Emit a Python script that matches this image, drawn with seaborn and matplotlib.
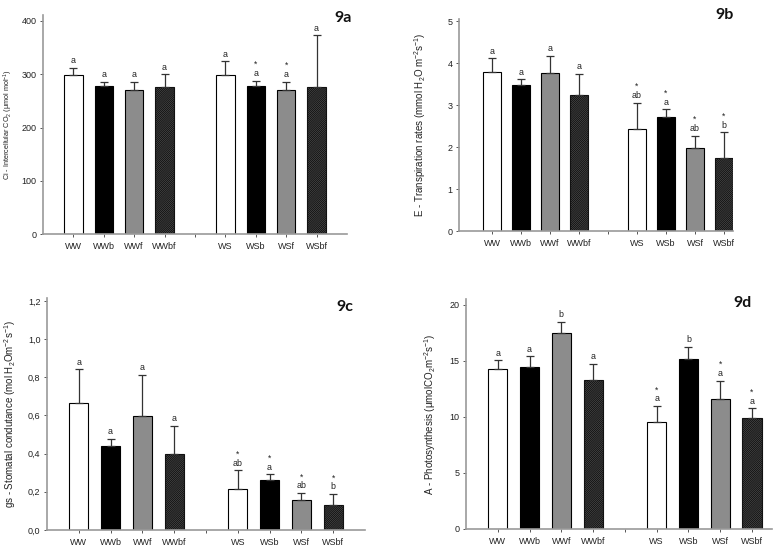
import numpy as np
import pandas as pd
import matplotlib
matplotlib.use("Agg")
import matplotlib.pyplot as plt
import seaborn as sns

# ---------------- data ----------------
groups = ["WW", "WWb", "WWf", "WWbf", "WS", "WSb", "WSf", "WSbf"]
slot_order = ["WW", "WWb", "WWf", "WWbf", "", "WS", "WSb", "WSf", "WSbf"]

a_mean = [298, 278, 270, 276, 298, 278, 271, 276]
a_top = [312, 286, 286, 300, 324, 288, 286, 373]
a_letters = ["a", "a", "a", "a", "a", "a", "a", "a"]
a_stars = [False, False, False, False, False, True, True, False]
a_yticks = [0, 100, 200, 300, 400]
a_yticklabels = ["0", "100", "200", "300", "400"]

b_mean = [3.79, 3.47, 3.77, 3.24, 2.44, 2.72, 1.98, 1.74]
b_top = [4.12, 3.61, 4.18, 3.74, 3.06, 2.90, 2.27, 2.35]
b_letters = ["a", "a", "a", "a", "ab", "a", "ab", "b"]
b_stars = [False, False, False, False, True, True, True, True]
b_yticks = [0, 1, 2, 3, 4, 5]
b_yticklabels = ["0", "1", "2", "3", "4", "5"]

c_mean = [0.667, 0.442, 0.596, 0.398, 0.217, 0.262, 0.157, 0.133]
c_top = [0.842, 0.479, 0.812, 0.545, 0.313, 0.292, 0.194, 0.190]
c_letters = ["a", "a", "a", "a", "ab", "a", "ab", "b"]
c_stars = [False, False, False, False, True, True, True, True]
c_yticks = [0.0, 0.2, 0.4, 0.6, 0.8, 1.0, 1.2]
c_yticklabels = ["0,0", "0,2", "0,4", "0,6", "0,8", "1,0", "1,2"]

d_mean = [14.24, 14.42, 17.48, 13.32, 9.50, 15.19, 11.63, 9.91]
d_top = [15.04, 15.40, 18.46, 14.75, 10.98, 16.23, 13.23, 10.77]
d_letters = ["a", "a", "b", "a", "a", "b", "a", "a"]
d_stars = [False, False, False, False, True, False, True, True]
d_yticks = [0, 5, 10, 15, 20]
d_yticklabels = ["0", "5", "10", "15", "20"]

a_ylabel = "Ci - Intercellular CO$_2$ (\u03bcmol mol$^{-1}$)"
b_ylabel = "E - Transpiration rates (mmol H$_2$O m$^{-2}$s$^{-1}$)"
c_ylabel = "gs - Stomatal condutance (mol H$_2$Om$^{-2}$s$^{-1}$)"
d_ylabel = "A - Photosynthesis (\u03bcmolCO$_2$m$^{-2}$s$^{-1}$)"

panel_tags = ["9a", "9b", "9c", "9d"]

# ---------------- style ----------------
sns.set_theme(style="ticks")
plt.rcParams["font.family"] = ["Liberation Sans", "DejaVu Sans"]
plt.rcParams["mathtext.fontset"] = "custom"
plt.rcParams["mathtext.rm"] = "Liberation Sans"
plt.rcParams["mathtext.it"] = "Liberation Sans:italic"
plt.rcParams["mathtext.bf"] = "Liberation Sans:bold"
plt.rcParams["hatch.linewidth"] = 0.7

palette = {"WW": "#ffffff", "WWb": "#000000", "WWf": "#8c8c8c", "WWbf": "#5c5c5c",
           "WS": "#ffffff", "WSb": "#000000", "WSf": "#8c8c8c", "WSbf": "#5c5c5c"}

W, H = 773, 551
fig = plt.figure(figsize=(W / 100, H / 100), dpi=100)
fig.patch.set_facecolor("white")


def add_panel(rect_px, xlim, ylim, mean, top, letters, stars, yticks, yticklabels,
              ylabel, label_x, tag, tag_xy, label_size=7):
    l, t, r, b = rect_px
    ax = fig.add_axes([l / W, 1 - b / H, (r - l) / W, (b - t) / H])
    df = pd.DataFrame({"group": groups, "value": mean})
    sns.barplot(data=df, x="group", y="value", hue="group", order=slot_order,
                hue_order=groups, palette=palette, width=0.6, saturation=1,
                edgecolor="black", linewidth=0.8, errorbar=None, legend=False, ax=ax)
    for p in ax.patches:
        idx = int(round(p.get_x() + p.get_width() / 2))
        if 0 <= idx < len(slot_order) and slot_order[idx].endswith("bf"):
            p.set_hatch("/" * 16)
            p.set_edgecolor("#111111")
    pos = np.array([slot_order.index(g) for g in groups])
    mean_a = np.array(mean)
    top_a = np.array(top)
    ax.errorbar(pos, mean_a, yerr=[np.zeros_like(mean_a), top_a - mean_a], fmt="none",
                ecolor="#333333", elinewidth=0.9, capsize=2.6, capthick=0.9, zorder=1)
    for x, yt, let, st in zip(pos, top_a, letters, stars):
        ax.annotate(let, (x, yt), xytext=(0, 1.8), textcoords="offset points",
                    ha="center", va="bottom", fontsize=6.4, color="#222222")
        if st:
            ax.annotate("*", (x, yt), xytext=(0, 11.5), textcoords="offset points",
                        ha="center", va="center", fontsize=6.2, color="#222222")
    ax.set_xlim(*xlim)
    ax.set_ylim(*ylim)
    ax.set_yticks(yticks)
    ax.set_yticklabels(yticklabels)
    ax.set_xticks(range(len(slot_order)))
    ax.set_xticklabels(slot_order)
    ax.set_xlabel("")
    ax.set_ylabel(ylabel, fontsize=label_size, color="#222222")
    ax.yaxis.set_label_coords(label_x, 0.5)
    sns.despine(ax=ax)
    for s in ("left", "bottom"):
        ax.spines[s].set_color("#9a9a9a")
        ax.spines[s].set_linewidth(1.2)
    ax.tick_params(axis="both", direction="out", length=2.5, width=0.7,
                   color="#555555", labelsize=6.5, pad=2.2, labelcolor="#222222")
    ax.tick_params(axis="x", pad=3.2)
    ax.set_facecolor("white")
    ax.grid(False)
    fig.text(tag_xy[0] / W, 1 - tag_xy[1] / H, tag, fontsize=11.5, fontweight="bold",
             family=["Lato", "DejaVu Sans"], ha="center", va="center", color="#111111")
    return ax


add_panel((43, 15.4, 347, 234.3), (-1.0, 9.0), (0, 410), a_mean, a_top, a_letters,
          a_stars, a_yticks, a_yticklabels, a_ylabel, -0.092, panel_tags[0], (343, 18),
          label_size=5.2)
add_panel((459, 19, 733, 231), (-1.14, 8.31), (0, 5.05), b_mean, b_top, b_letters,
          b_stars, b_yticks, b_yticklabels, b_ylabel, -0.113, panel_tags[1], (725, 15))
add_panel((47, 298, 365, 530), (-1.0, 9.0), (0, 1.215), c_mean, c_top, c_letters,
          c_stars, c_yticks, c_yticklabels, c_ylabel, -0.091, panel_tags[2], (345, 307))
add_panel((466, 299, 772, 529), (-1.0, 8.63), (0, 20.5), d_mean, d_top, d_letters,
          d_stars, d_yticks, d_yticklabels, d_ylabel, -0.092, panel_tags[3], (743, 303))

fig.savefig("out.png", dpi=100, facecolor="white")
